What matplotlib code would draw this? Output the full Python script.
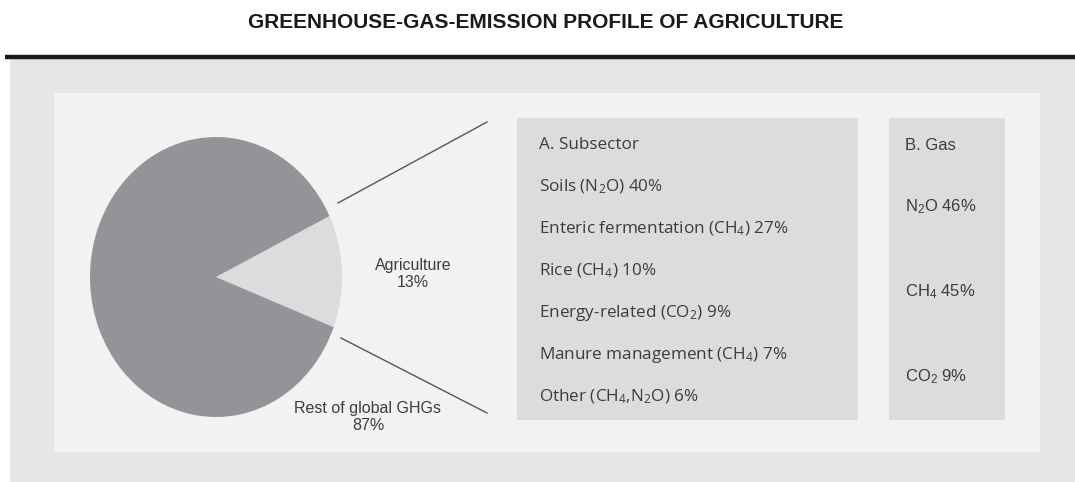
import matplotlib
matplotlib.use('Agg')
import matplotlib.pyplot as plt
from matplotlib.patches import Rectangle

# data
pie_labels = ['Agriculture', 'Rest of global GHGs']
pie_values = [13, 87]
pie_colors = ['#dcdcde', '#939497']

subsector_title = 'A. Subsector'
subsector_labels = ['Soils (N$_2$O)', 'Enteric fermentation (CH$_4$)', 'Rice (CH$_4$)',
                    'Energy-related (CO$_2$)', 'Manure management (CH$_4$)',
                    'Other (CH$_4$,N$_2$O)']
subsector_values = [40, 27, 10, 9, 7, 6]

gas_title = 'B. Gas'
gas_labels = ['N$_2$O', 'CH$_4$', 'CO$_2$']
gas_values = [46, 45, 9]

title = 'GREENHOUSE-GAS-EMISSION PROFILE OF AGRICULTURE'

plt.rcParams['mathtext.default'] = 'regular'
narrow = ['Liberation Sans', 'DejaVu Sans']
body = ['Open Sans', 'DejaVu Sans']
txt_color = '#3c3c3c'

W, H = 1075, 482
fig = plt.figure(figsize=(W / 100, H / 100), dpi=100)
ax = fig.add_axes([0, 0, 1, 1])
ax.set_xlim(0, W)
ax.set_ylim(H, 0)
ax.axis('off')

# title and panels
ax.text(546, 23, title, ha='center', va='center', fontsize=15, fontweight='bold',
        color='#1a1a1a', family=narrow)
ax.plot([5, W], [57, 57], color='#1a1a1a', lw=3.2, solid_capstyle='butt')
ax.add_patch(Rectangle((10, 59), W - 10, H - 59, color='#e6e6e6', lw=0))
ax.add_patch(Rectangle((54, 93), 1040 - 54, 452 - 93, color='#f2f2f2', lw=0))
ax.add_patch(Rectangle((517, 118), 858 - 517, 420 - 118, color='#dcdcde', lw=0))
ax.add_patch(Rectangle((889, 118), 1005 - 889, 420 - 118, color='#dcdcde', lw=0))

# connector lines
ax.plot([338, 487], [203, 122], color='#555555', lw=1)
ax.plot([341, 487], [338, 413], color='#555555', lw=1)

# pie (elliptical, as in the original)
pax = fig.add_axes([90 / W, 1 - 417 / H, 252 / W, 280 / H])
pax.pie(pie_values, colors=pie_colors, startangle=-21, counterclock=True,
        wedgeprops=dict(linewidth=0))
pax.set_aspect('auto')
pax.set_xlim(-1, 1)
pax.set_ylim(-1, 1)
pax.axis('off')

ax.text(413, 274, f'{pie_labels[0]}\n{pie_values[0]}%', ha='center', va='center',
        fontsize=11.5, color=txt_color, family=narrow, linespacing=1.15)
ax.text(368, 417, f'{pie_labels[1]}\n{pie_values[1]}%', ha='center', va='center',
        fontsize=11.5, color=txt_color, family=narrow, linespacing=1.15)

# subsector list
ax.text(539, 145, subsector_title, ha='left', va='center', fontsize=12.3,
        color=txt_color, family=body)
for i, (lab, val) in enumerate(zip(subsector_labels, subsector_values)):
    ax.text(539, 187 + i * 42, f'{lab} {val}%', ha='left', va='center',
            fontsize=12.3, color=txt_color, family=body)

# gas list
ax.text(905, 145, gas_title, ha='left', va='center', fontsize=12,
        color=txt_color, family=narrow)
for i, (lab, val) in enumerate(zip(gas_labels, gas_values)):
    ax.text(905, 207 + i * 85, f'{lab} {val}%', ha='left', va='center',
            fontsize=12, color=txt_color, family=narrow)

fig.savefig('out.png', dpi=100)
